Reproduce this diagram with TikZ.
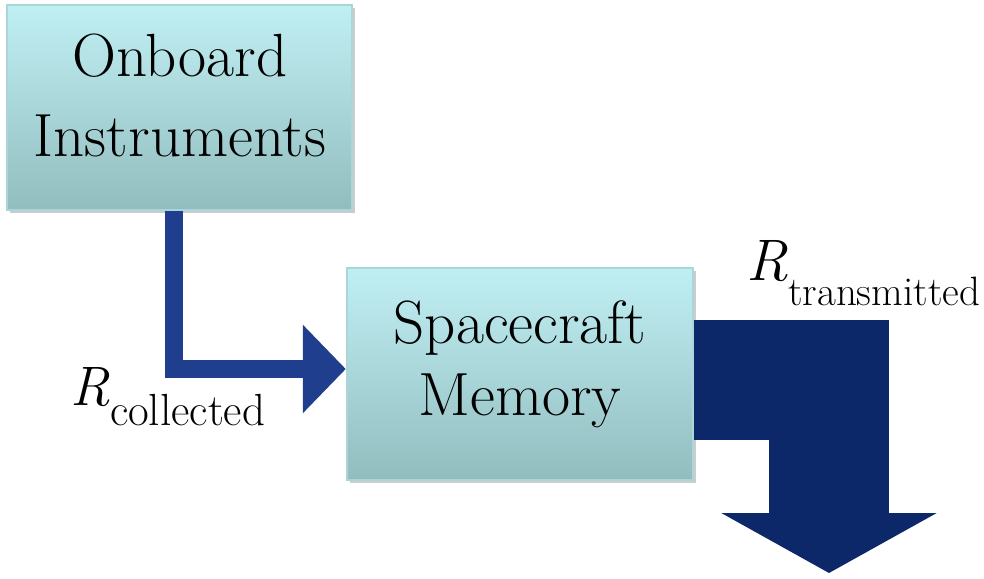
\documentclass[tikz,border=0pt]{standalone}
\usepackage{fontspec}
\usetikzlibrary{arrows.meta,shadows}

\definecolor{boxtop}{RGB}{192,239,243}
\definecolor{boxbot}{RGB}{146,189,191}
\definecolor{boxedge}{RGB}{170,214,217}
\definecolor{navy}{RGB}{12,40,104}
\definecolor{flowblue}{RGB}{32,62,142}

\begin{document}
\begin{tikzpicture}[
    x=0.5pt, y=-0.5pt,
    block/.style={draw=boxedge, line width=1.2pt, top color=boxtop, bottom color=boxbot,
        drop shadow={shadow xshift=1.5pt, shadow yshift=-1.5pt, opacity=0.4},
        minimum width=172.5pt, minimum height=102.5pt},
    words/.style={align=center, inner sep=0pt, font=\fontsize{30.5}{40}\selectfont},
    rate/.style={anchor=base west, inner sep=0pt},
    inflow/.style={draw=flowblue, line width=9pt, line join=miter,
        -{Triangle[length=21.5pt, width=43pt]}},
    outflow/.style={draw=navy, line width=60pt, line join=miter,
        -{Triangle[length=30pt, width=106.5pt]}}
]
    \useasboundingbox (0,0) rectangle (984,578);
    % the two stages
    \node[block] (inst) at (179.5,107.5) {};
    \node[block, minimum width=173pt, minimum height=106pt] (mem) at (520,374) {};
    \node[words] (instT) at (180,95) {Onboard\\Instruments};
    \node[words, font=\fontsize{30.5}{36}\selectfont] (memT) at (520,364) {Spacecraft\\Memory};
    % data flow
    \coordinate (sink) at (829,573);
    \draw[inflow] ([xshift=-3pt]inst.south) |- ([yshift=2.5pt]mem.west);
    \draw[outflow] ([yshift=-3pt]mem.east) -| (sink);
    % rates
    \node[rate] (rIn) at (70,405)
        {\fontsize{27.8}{30}\selectfont\textit{R}\raisebox{-10pt}{\fontsize{22.5}{24}\selectfont collected}};
    \node[rate] (rOut) at (746,280)
        {\fontsize{29.3}{30}\selectfont\textit{R}\raisebox{-12.5pt}{\fontsize{20.5}{22}\selectfont transmitted}};
\end{tikzpicture}
\end{document}
